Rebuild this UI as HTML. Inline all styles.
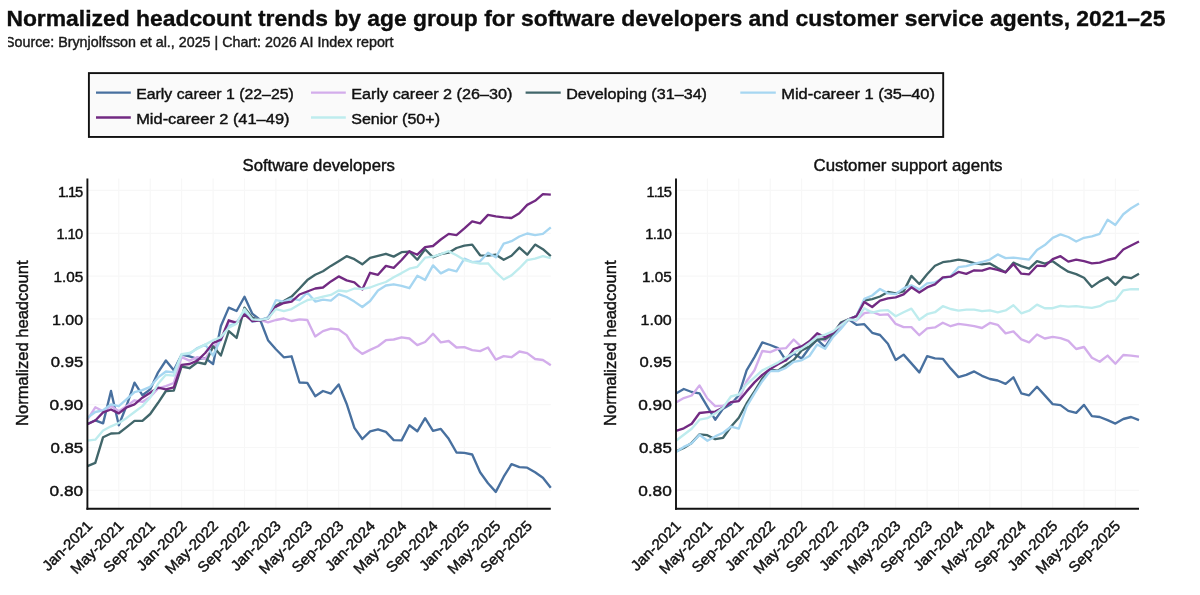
<!DOCTYPE html>
<html><head><meta charset="utf-8"><title>Normalized headcount trends</title>
<style>
html,body{margin:0;padding:0;background:#fff;}
body{width:1200px;height:595px;overflow:hidden;font-family:"Liberation Sans", sans-serif;}
svg{display:block;position:absolute;left:0;top:0;}
text{font-family:"Liberation Sans", sans-serif;fill:#111;stroke:#111;stroke-width:0.42px;filter:grayscale(1);}
.ttl{font-size:22.8px;font-weight:bold;fill:#0d0d0d;stroke:#0d0d0d;stroke-width:0.35px;}
.sub{font-size:14.1px;fill:#1a1a1a;stroke:#1a1a1a;stroke-width:0.42px;}
.lg{font-size:15.4px;}
.tk{font-size:14.7px;}
.xk{font-size:14.7px;}
.ct{font-size:15.9px;}
.yl{font-size:15.9px;}
</style></head>
<body>
<svg width="1200" height="595" viewBox="0 0 1200 595">
<rect width="1200" height="595" fill="#ffffff"/>
<text class="ttl" x="6.4" y="26.4" textLength="1159" lengthAdjust="spacingAndGlyphs">Normalized headcount trends by age group for software developers and customer service agents, 2021–25</text>
<text class="sub" x="5" y="46.8" textLength="388.6" lengthAdjust="spacingAndGlyphs">Source: Brynjolfsson et al., 2025 | Chart: 2026 AI Index report</text>
<rect x="0" y="32" width="8" height="20" fill="#ffffff"/>
<rect x="88.9" y="73.1" width="854.3" height="63.85" fill="#fafafa" stroke="#111" stroke-width="1.9"/>
<line x1="96" y1="92.6" x2="130.8" y2="92.6" stroke="#48709f" stroke-width="2.3"/>
<text class="lg" x="136.2" y="99.2" textLength="157.6" lengthAdjust="spacingAndGlyphs">Early career 1 (22–25)</text>
<line x1="311" y1="92.6" x2="345.8" y2="92.6" stroke="#d3adeb" stroke-width="2.3"/>
<text class="lg" x="351.2" y="99.2" textLength="161.3" lengthAdjust="spacingAndGlyphs">Early career 2 (26–30)</text>
<line x1="525.6" y1="92.6" x2="560.7" y2="92.6" stroke="#41666a" stroke-width="2.3"/>
<text class="lg" x="566.2" y="99.2" textLength="140.8" lengthAdjust="spacingAndGlyphs">Developing (31–34)</text>
<line x1="740.3" y1="92.6" x2="775.8" y2="92.6" stroke="#a6d6f1" stroke-width="2.3"/>
<text class="lg" x="781.2" y="99.2" textLength="153.8" lengthAdjust="spacingAndGlyphs">Mid-career 1 (35–40)</text>
<line x1="96" y1="117.5" x2="130.8" y2="117.5" stroke="#722a82" stroke-width="2.3"/>
<text class="lg" x="136.2" y="124.1" textLength="153.3" lengthAdjust="spacingAndGlyphs">Mid-career 2 (41–49)</text>
<line x1="311" y1="117.5" x2="345.8" y2="117.5" stroke="#beecee" stroke-width="2.3"/>
<text class="lg" x="351.2" y="124.1" textLength="88.8" lengthAdjust="spacingAndGlyphs">Senior (50+)</text>
<line x1="118.8" y1="178.5" x2="118.8" y2="508.8" stroke="#f7f7f7" stroke-width="1.2"/>
<line x1="150.2" y1="178.5" x2="150.2" y2="508.8" stroke="#f7f7f7" stroke-width="1.2"/>
<line x1="181.6" y1="178.5" x2="181.6" y2="508.8" stroke="#f7f7f7" stroke-width="1.2"/>
<line x1="213.1" y1="178.5" x2="213.1" y2="508.8" stroke="#f7f7f7" stroke-width="1.2"/>
<line x1="244.5" y1="178.5" x2="244.5" y2="508.8" stroke="#f7f7f7" stroke-width="1.2"/>
<line x1="275.9" y1="178.5" x2="275.9" y2="508.8" stroke="#f7f7f7" stroke-width="1.2"/>
<line x1="307.3" y1="178.5" x2="307.3" y2="508.8" stroke="#f7f7f7" stroke-width="1.2"/>
<line x1="338.7" y1="178.5" x2="338.7" y2="508.8" stroke="#f7f7f7" stroke-width="1.2"/>
<line x1="370.1" y1="178.5" x2="370.1" y2="508.8" stroke="#f7f7f7" stroke-width="1.2"/>
<line x1="401.6" y1="178.5" x2="401.6" y2="508.8" stroke="#f7f7f7" stroke-width="1.2"/>
<line x1="433.0" y1="178.5" x2="433.0" y2="508.8" stroke="#f7f7f7" stroke-width="1.2"/>
<line x1="464.4" y1="178.5" x2="464.4" y2="508.8" stroke="#f7f7f7" stroke-width="1.2"/>
<line x1="495.8" y1="178.5" x2="495.8" y2="508.8" stroke="#f7f7f7" stroke-width="1.2"/>
<line x1="527.2" y1="178.5" x2="527.2" y2="508.8" stroke="#f7f7f7" stroke-width="1.2"/>
<line x1="87.4" y1="490.3" x2="550.8" y2="490.3" stroke="#f7f7f7" stroke-width="1.2"/>
<line x1="87.4" y1="447.5" x2="550.8" y2="447.5" stroke="#f7f7f7" stroke-width="1.2"/>
<line x1="87.4" y1="404.6" x2="550.8" y2="404.6" stroke="#f7f7f7" stroke-width="1.2"/>
<line x1="87.4" y1="361.8" x2="550.8" y2="361.8" stroke="#f7f7f7" stroke-width="1.2"/>
<line x1="87.4" y1="318.9" x2="550.8" y2="318.9" stroke="#f7f7f7" stroke-width="1.2"/>
<line x1="87.4" y1="276.1" x2="550.8" y2="276.1" stroke="#f7f7f7" stroke-width="1.2"/>
<line x1="87.4" y1="233.3" x2="550.8" y2="233.3" stroke="#f7f7f7" stroke-width="1.2"/>
<line x1="87.4" y1="190.4" x2="550.8" y2="190.4" stroke="#f7f7f7" stroke-width="1.2"/>
<polyline points="87.4,424.0 95.3,420.3 103.1,423.4 111.0,391.0 118.8,425.2 126.7,405.3 134.5,382.6 142.4,395.2 150.2,389.4 158.1,372.3 165.9,360.5 173.8,370.3 181.6,354.7 189.5,356.4 197.4,358.9 205.2,358.1 213.1,364.0 220.9,326.0 228.8,307.6 236.6,311.0 244.5,296.7 252.3,313.7 260.2,320.0 268.0,340.2 275.9,349.2 283.8,357.3 291.6,356.3 299.5,382.5 307.3,382.9 315.2,396.2 323.0,391.0 330.9,393.6 338.7,384.5 346.6,403.7 354.4,427.9 362.3,439.0 370.1,431.3 378.0,429.3 385.9,431.9 393.7,440.1 401.6,440.4 409.4,425.3 417.3,431.3 425.1,418.2 433.0,430.9 440.8,428.9 448.7,438.8 456.5,452.5 464.4,452.9 472.2,454.5 480.1,472.3 488.0,483.2 495.8,491.9 503.7,476.7 511.5,464.2 519.4,467.2 527.2,467.7 535.1,472.3 542.9,477.7 550.8,487.8" fill="none" stroke="#48709f" stroke-width="2.35" stroke-linejoin="round" stroke-linecap="butt"/>
<polyline points="87.4,419.6 95.3,407.3 103.1,411.2 111.0,406.1 118.8,411.2 126.7,406.1 134.5,400.3 142.4,401.9 150.2,396.9 158.1,388.5 165.9,386.2 173.8,383.0 181.6,357.2 189.5,360.6 197.4,357.2 205.2,358.9 213.1,347.1 220.9,340.4 228.8,321.9 236.6,321.9 244.5,312.7 252.3,317.7 260.2,319.9 268.0,322.4 275.9,320 283.8,318.5 291.6,321 299.5,319.4 307.3,320 315.2,336.5 323.0,331.1 330.9,328.7 338.7,329.5 346.6,335.1 354.4,347.8 362.3,353.9 370.1,349.9 378.0,346.2 385.9,340.2 393.7,339.5 401.6,337.3 409.4,338.5 417.3,345.1 425.1,342 433.0,333.8 440.8,342.4 448.7,341 456.5,347.5 464.4,347.1 472.2,350.1 480.1,351.1 488.0,347.5 495.8,359.6 503.7,356.2 511.5,357.2 519.4,351.5 527.2,353.1 535.1,359 542.9,360 550.8,365.2" fill="none" stroke="#d3adeb" stroke-width="2.35" stroke-linejoin="round" stroke-linecap="butt"/>
<polyline points="87.4,466.1 95.3,462.9 103.1,437.2 111.0,433.5 118.8,433.2 126.7,427.1 134.5,420.9 142.4,420.9 150.2,414.0 158.1,402.8 165.9,391.0 173.8,390.6 181.6,366.5 189.5,368.2 197.4,362.3 205.2,364.0 213.1,346.3 220.9,355.5 228.8,331.2 236.6,337.9 244.5,307.6 252.3,317.7 260.2,320.3 268.0,317.7 275.9,305.7 283.8,301.0 291.6,296.6 299.5,288.5 307.3,280.1 315.2,274.8 323.0,271.3 330.9,265.9 338.7,261.2 346.6,256.2 354.4,259.2 362.3,264.3 370.1,257.8 378.0,255.8 385.9,253.8 393.7,256.6 401.6,252.2 409.4,251.6 417.3,259.7 425.1,249.2 433.0,257.3 440.8,254.1 448.7,252.7 456.5,248.0 464.4,245.6 472.2,244.6 480.1,255.3 488.0,255.7 495.8,254.7 503.7,259.7 511.5,255.7 519.4,247.6 527.2,254.7 535.1,244.6 542.9,249.2 550.8,256.1" fill="none" stroke="#41666a" stroke-width="2.35" stroke-linejoin="round" stroke-linecap="butt"/>
<polyline points="87.4,417.9 95.3,412.0 103.1,410.3 111.0,404.4 118.8,406.1 126.7,399.2 134.5,392.2 142.4,390.2 150.2,386.8 158.1,377.4 165.9,371.5 173.8,372.4 181.6,354.7 189.5,353.9 197.4,348 205.2,344.6 213.1,355.5 220.9,338.7 228.8,326.1 236.6,322.8 244.5,310.6 252.3,321.9 260.2,319.9 268.0,317.7 275.9,300.2 283.8,301.6 291.6,298.6 299.5,300.2 307.3,292.5 315.2,301.6 323.0,299.6 330.9,300.6 338.7,294.1 346.6,297.0 354.4,301.6 362.3,307.0 370.1,301.0 378.0,290.5 385.9,285.5 393.7,284.3 401.6,285.8 409.4,288.2 417.3,275.8 425.1,279.9 433.0,265.4 440.8,273.4 448.7,269.4 456.5,271.4 464.4,258.7 472.2,262.1 480.1,261.3 488.0,252.7 495.8,257.3 503.7,243.6 511.5,241.2 519.4,236.5 527.2,233.5 535.1,235.1 542.9,233.9 550.8,227.4" fill="none" stroke="#a6d6f1" stroke-width="2.35" stroke-linejoin="round" stroke-linecap="butt"/>
<polyline points="87.4,424.3 95.3,420.5 103.1,412.4 111.0,409.5 118.8,413.4 126.7,407.3 134.5,404.4 142.4,397.7 150.2,392.7 158.1,387.6 165.9,389.3 173.8,387.3 181.6,364.8 189.5,364.0 197.4,360.6 205.2,353.0 213.1,342.9 220.9,339.6 228.8,320.3 236.6,322.8 244.5,314.4 252.3,321.2 260.2,320.3 268.0,318.6 275.9,306.6 283.8,303.0 291.6,301.6 299.5,294.5 307.3,291.5 315.2,288.5 323.0,287.5 330.9,281.4 338.7,276.4 346.6,280.4 354.4,282.4 362.3,289.5 370.1,272.8 378.0,274.8 385.9,265.9 393.7,267.9 401.6,260.0 409.4,251.2 417.3,254.7 425.1,247.2 433.0,246.0 440.8,239.5 448.7,233.9 456.5,235.1 464.4,228.4 472.2,221.4 480.1,223.4 488.0,214.9 495.8,216.3 503.7,217.4 511.5,218.0 519.4,213.3 527.2,204.9 535.1,200.8 542.9,194.2 550.8,194.6" fill="none" stroke="#722a82" stroke-width="2.35" stroke-linejoin="round" stroke-linecap="butt"/>
<polyline points="87.4,440.6 95.3,439.7 103.1,430.5 111.0,426.3 118.8,423.0 126.7,417.9 134.5,412.0 142.4,406.1 150.2,397.5 158.1,383.8 165.9,374.8 173.8,375.7 181.6,354.2 189.5,353 197.4,348.8 205.2,344.6 213.1,340.4 220.9,337.1 228.8,327.8 236.6,323.6 244.5,309.0 252.3,319.4 260.2,319.9 268.0,318.6 275.9,309.1 283.8,311.1 291.6,309.1 299.5,304.2 307.3,300.2 315.2,298.6 323.0,296.6 330.9,294.9 338.7,290.5 346.6,291.5 354.4,288.5 362.3,288.9 370.1,287.5 378.0,284.5 385.9,282.0 393.7,277.2 401.6,273.1 409.4,268.7 417.3,266.8 425.1,257.7 433.0,256.7 440.8,254.1 448.7,251.2 456.5,255.3 464.4,260.1 472.2,262.1 480.1,263.7 488.0,263.3 495.8,272.2 503.7,279.5 511.5,275.4 519.4,268.2 527.2,260.1 535.1,258.7 542.9,256.1 550.8,258.1" fill="none" stroke="#beecee" stroke-width="2.35" stroke-linejoin="round" stroke-linecap="butt"/>
<line x1="87.4" y1="178.5" x2="87.4" y2="509.75" stroke="#111" stroke-width="1.9"/>
<line x1="86.45" y1="508.8" x2="550.8" y2="508.8" stroke="#111" stroke-width="1.9"/>
<text class="tk" x="58.0" y="196.5" textLength="25.2" lengthAdjust="spacing">1.15</text>
<text class="tk" x="56.6" y="239.2" textLength="26.6" lengthAdjust="spacing">1.10</text>
<text class="tk" x="53.4" y="281.9" textLength="29.8" lengthAdjust="spacingAndGlyphs">1.05</text>
<text class="tk" x="52.0" y="324.7" textLength="31.2" lengthAdjust="spacingAndGlyphs">1.00</text>
<text class="tk" x="50.8" y="367.4" textLength="32.4" lengthAdjust="spacingAndGlyphs">0.95</text>
<text class="tk" x="49.6" y="410.1" textLength="33.6" lengthAdjust="spacingAndGlyphs">0.90</text>
<text class="tk" x="50.4" y="452.8" textLength="32.8" lengthAdjust="spacingAndGlyphs">0.85</text>
<text class="tk" x="49.6" y="495.6" textLength="33.6" lengthAdjust="spacingAndGlyphs">0.80</text>
<text class="xk" transform="translate(93.2,526.7) rotate(-45)" x="-63.6" textLength="63.6" lengthAdjust="spacingAndGlyphs">Jan-2021</text>
<text class="xk" transform="translate(124.6,526.7) rotate(-45)" x="-67.9" textLength="67.9" lengthAdjust="spacingAndGlyphs">May-2021</text>
<text class="xk" transform="translate(156.0,526.7) rotate(-45)" x="-66.1" textLength="66.1" lengthAdjust="spacingAndGlyphs">Sep-2021</text>
<text class="xk" transform="translate(187.4,526.7) rotate(-45)" x="-63.6" textLength="63.6" lengthAdjust="spacingAndGlyphs">Jan-2022</text>
<text class="xk" transform="translate(218.9,526.7) rotate(-45)" x="-67.9" textLength="67.9" lengthAdjust="spacingAndGlyphs">May-2022</text>
<text class="xk" transform="translate(250.3,526.7) rotate(-45)" x="-66.1" textLength="66.1" lengthAdjust="spacingAndGlyphs">Sep-2022</text>
<text class="xk" transform="translate(281.7,526.7) rotate(-45)" x="-63.6" textLength="63.6" lengthAdjust="spacingAndGlyphs">Jan-2023</text>
<text class="xk" transform="translate(313.1,526.7) rotate(-45)" x="-67.9" textLength="67.9" lengthAdjust="spacingAndGlyphs">May-2023</text>
<text class="xk" transform="translate(344.5,526.7) rotate(-45)" x="-66.1" textLength="66.1" lengthAdjust="spacingAndGlyphs">Sep-2023</text>
<text class="xk" transform="translate(375.9,526.7) rotate(-45)" x="-63.6" textLength="63.6" lengthAdjust="spacingAndGlyphs">Jan-2024</text>
<text class="xk" transform="translate(407.4,526.7) rotate(-45)" x="-67.9" textLength="67.9" lengthAdjust="spacingAndGlyphs">May-2024</text>
<text class="xk" transform="translate(438.8,526.7) rotate(-45)" x="-66.1" textLength="66.1" lengthAdjust="spacingAndGlyphs">Sep-2024</text>
<text class="xk" transform="translate(470.2,526.7) rotate(-45)" x="-63.6" textLength="63.6" lengthAdjust="spacingAndGlyphs">Jan-2025</text>
<text class="xk" transform="translate(501.6,526.7) rotate(-45)" x="-67.9" textLength="67.9" lengthAdjust="spacingAndGlyphs">May-2025</text>
<text class="xk" transform="translate(533.0,526.7) rotate(-45)" x="-66.1" textLength="66.1" lengthAdjust="spacingAndGlyphs">Sep-2025</text>
<text class="ct" x="242.5" y="171" textLength="152.4" lengthAdjust="spacingAndGlyphs">Software developers</text>
<text class="yl" transform="translate(27.5,426) rotate(-90)" textLength="165.5" lengthAdjust="spacingAndGlyphs">Normalized headcount</text>
<line x1="707.4" y1="178.5" x2="707.4" y2="508.8" stroke="#f7f7f7" stroke-width="1.2"/>
<line x1="738.8" y1="178.5" x2="738.8" y2="508.8" stroke="#f7f7f7" stroke-width="1.2"/>
<line x1="770.2" y1="178.5" x2="770.2" y2="508.8" stroke="#f7f7f7" stroke-width="1.2"/>
<line x1="801.6" y1="178.5" x2="801.6" y2="508.8" stroke="#f7f7f7" stroke-width="1.2"/>
<line x1="832.9" y1="178.5" x2="832.9" y2="508.8" stroke="#f7f7f7" stroke-width="1.2"/>
<line x1="864.3" y1="178.5" x2="864.3" y2="508.8" stroke="#f7f7f7" stroke-width="1.2"/>
<line x1="895.7" y1="178.5" x2="895.7" y2="508.8" stroke="#f7f7f7" stroke-width="1.2"/>
<line x1="927.1" y1="178.5" x2="927.1" y2="508.8" stroke="#f7f7f7" stroke-width="1.2"/>
<line x1="958.5" y1="178.5" x2="958.5" y2="508.8" stroke="#f7f7f7" stroke-width="1.2"/>
<line x1="989.9" y1="178.5" x2="989.9" y2="508.8" stroke="#f7f7f7" stroke-width="1.2"/>
<line x1="1021.3" y1="178.5" x2="1021.3" y2="508.8" stroke="#f7f7f7" stroke-width="1.2"/>
<line x1="1052.7" y1="178.5" x2="1052.7" y2="508.8" stroke="#f7f7f7" stroke-width="1.2"/>
<line x1="1084.0" y1="178.5" x2="1084.0" y2="508.8" stroke="#f7f7f7" stroke-width="1.2"/>
<line x1="1115.4" y1="178.5" x2="1115.4" y2="508.8" stroke="#f7f7f7" stroke-width="1.2"/>
<line x1="676.0" y1="490.3" x2="1139.0" y2="490.3" stroke="#f7f7f7" stroke-width="1.2"/>
<line x1="676.0" y1="447.5" x2="1139.0" y2="447.5" stroke="#f7f7f7" stroke-width="1.2"/>
<line x1="676.0" y1="404.6" x2="1139.0" y2="404.6" stroke="#f7f7f7" stroke-width="1.2"/>
<line x1="676.0" y1="361.8" x2="1139.0" y2="361.8" stroke="#f7f7f7" stroke-width="1.2"/>
<line x1="676.0" y1="318.9" x2="1139.0" y2="318.9" stroke="#f7f7f7" stroke-width="1.2"/>
<line x1="676.0" y1="276.1" x2="1139.0" y2="276.1" stroke="#f7f7f7" stroke-width="1.2"/>
<line x1="676.0" y1="233.3" x2="1139.0" y2="233.3" stroke="#f7f7f7" stroke-width="1.2"/>
<line x1="676.0" y1="190.4" x2="1139.0" y2="190.4" stroke="#f7f7f7" stroke-width="1.2"/>
<polyline points="676.0,393.4 683.8,389 691.7,392 699.5,393.4 707.4,406.6 715.2,419.7 723.1,408.6 730.9,404.3 738.8,395.2 746.6,370.3 754.5,357.1 762.3,342.4 770.2,345 778.0,348.2 785.9,360.4 793.7,353.5 801.6,358.5 809.4,347.8 817.2,339.6 825.1,347.2 832.9,335.2 840.8,326.4 848.6,319.4 856.5,324.8 864.3,324.2 872.2,332.8 880.0,335.0 887.9,343.8 895.7,360.0 903.6,354.6 911.4,363.4 919.3,372.4 927.1,356.2 935.0,358.4 942.8,358.8 950.6,368.4 958.5,377.1 966.3,374.9 974.2,371.4 982.0,375.8 989.9,379.0 997.7,380.5 1005.6,383.8 1013.4,377.3 1021.3,393.3 1029.1,395.3 1037.0,386.8 1044.8,395.4 1052.7,404.1 1060.5,405.1 1068.3,410.9 1076.2,412.9 1084.0,404.9 1091.9,416.2 1099.7,417 1107.6,420.2 1115.4,423.6 1123.3,419 1131.1,417 1139.0,420.2" fill="none" stroke="#48709f" stroke-width="2.35" stroke-linejoin="round" stroke-linecap="butt"/>
<polyline points="676.0,402.5 683.8,398.1 691.7,395.5 699.5,385.4 707.4,398.5 715.2,406.2 723.1,405.6 730.9,402.5 738.8,400.5 746.6,381.3 754.5,370.3 762.3,351 770.2,352.2 778.0,348.8 785.9,348.2 793.7,339.5 801.6,347.2 809.4,343.5 817.2,334.5 825.1,341 832.9,332.8 840.8,326.2 848.6,319.4 856.5,320.5 864.3,313.2 872.2,312 880.0,314.9 887.9,314.3 895.7,323.9 903.6,327.1 911.4,327.1 919.3,335.2 927.1,328.4 935.0,327.4 942.8,322.7 950.6,326.2 958.5,323.9 966.3,324.9 974.2,326.2 982.0,328 989.9,322.9 997.7,324.8 1005.6,333.4 1013.4,331.4 1021.3,339.4 1029.1,342.4 1037.0,334.5 1044.8,338.5 1052.7,336.9 1060.5,338.1 1068.3,340.9 1076.2,349 1084.0,347 1091.9,357.7 1099.7,361.7 1107.6,355.6 1115.4,363.7 1123.3,355 1131.1,355.6 1139.0,356.6" fill="none" stroke="#d3adeb" stroke-width="2.35" stroke-linejoin="round" stroke-linecap="butt"/>
<polyline points="676.0,451.3 683.8,447.9 691.7,442.9 699.5,434.4 707.4,435.2 715.2,439.2 723.1,437.8 730.9,426.7 738.8,417.7 746.6,403.5 754.5,391.4 762.3,378.6 770.2,369.5 778.0,370.8 785.9,365.0 793.7,360.1 801.6,350.4 809.4,346.6 817.2,339.6 825.1,339 832.9,334 840.8,322.6 848.6,319.4 856.5,316 864.3,300.5 872.2,299.1 880.0,296.5 887.9,292 895.7,293.4 903.6,291.4 911.4,275.9 919.3,284 927.1,274.3 935.0,265.8 942.8,262.2 950.6,261.2 958.5,259.6 966.3,260.8 974.2,263.2 982.0,264.4 989.9,263.4 997.7,268.1 1005.6,272.3 1013.4,262.7 1021.3,266.1 1029.1,268.7 1037.0,261.2 1044.8,263.7 1052.7,261.2 1060.5,266.7 1068.3,271.7 1076.2,274.1 1084.0,277.8 1091.9,286.9 1099.7,281.4 1107.6,277.4 1115.4,284.8 1123.3,276.8 1131.1,278.2 1139.0,273.7" fill="none" stroke="#41666a" stroke-width="2.35" stroke-linejoin="round" stroke-linecap="butt"/>
<polyline points="676.0,451.9 683.8,446.9 691.7,443.3 699.5,434.8 707.4,440.8 715.2,436.4 723.1,432.8 730.9,426.7 738.8,428.7 746.6,406.6 754.5,393.4 762.3,381.2 770.2,371 778.0,371.2 785.9,367.9 793.7,361.8 801.6,360.3 809.4,356 817.2,344.5 825.1,348.8 832.9,337.1 840.8,328.9 848.6,319.4 856.5,316 864.3,298.9 872.2,295.5 880.0,289 887.9,293.4 895.7,294.1 903.6,288.4 911.4,285.4 919.3,289.4 927.1,283.4 935.0,282.4 942.8,278.3 950.6,276.3 958.5,267.2 966.3,266.2 974.2,263.8 982.0,262 989.9,259.6 997.7,254.4 1005.6,258.1 1013.4,257.6 1021.3,258.6 1029.1,259.6 1037.0,249.9 1044.8,245.1 1052.7,237.8 1060.5,234.4 1068.3,237 1076.2,241.5 1084.0,237.8 1091.9,236.4 1099.7,233.8 1107.6,219.7 1115.4,224.9 1123.3,214.2 1131.1,208.2 1139.0,203.6" fill="none" stroke="#a6d6f1" stroke-width="2.35" stroke-linejoin="round" stroke-linecap="butt"/>
<polyline points="676.0,430.8 683.8,428.3 691.7,423.7 699.5,413 707.4,412.2 715.2,411.6 723.1,407.6 730.9,402.1 738.8,401.1 746.6,391.4 754.5,382.4 762.3,374.9 770.2,369 778.0,364.2 785.9,360.2 793.7,349 801.6,346.4 809.4,341.3 817.2,333.2 825.1,337.3 832.9,332.9 840.8,324.2 848.6,319.4 856.5,316.2 864.3,301.9 872.2,307 880.0,300.6 887.9,298.4 895.7,297.4 903.6,294.4 911.4,287.3 919.3,292.6 927.1,287.4 935.0,284.4 942.8,277.3 950.6,276.7 958.5,271.9 966.3,273.9 974.2,270.3 982.0,270.7 989.9,268.1 997.7,269.8 1005.6,272.3 1013.4,264.1 1021.3,273.7 1029.1,274.3 1037.0,265.7 1044.8,266.1 1052.7,259.2 1060.5,256.2 1068.3,261.6 1076.2,259.6 1084.0,261.2 1091.9,263.3 1099.7,262.7 1107.6,260 1115.4,258 1123.3,249.5 1131.1,245.5 1139.0,241.5" fill="none" stroke="#722a82" stroke-width="2.35" stroke-linejoin="round" stroke-linecap="butt"/>
<polyline points="676.0,440.8 683.8,434.8 691.7,428.7 699.5,419.7 707.4,418.2 715.2,413.6 723.1,407.6 730.9,396.5 738.8,394.5 746.6,384.4 754.5,377.3 762.3,370.4 770.2,366.5 778.0,362.6 785.9,357.5 793.7,352.8 801.6,348.6 809.4,343.2 817.2,337.1 825.1,334.6 832.9,331.4 840.8,325.1 848.6,319.4 856.5,320.2 864.3,308.2 872.2,312.6 880.0,310.6 887.9,310.2 895.7,316.2 903.6,312.2 911.4,308.6 919.3,319.7 927.1,314.2 935.0,312.2 942.8,306.2 950.6,309 958.5,310.6 966.3,309.6 974.2,309.6 982.0,311.2 989.9,310.3 997.7,312.3 1005.6,310.4 1013.4,305.2 1021.3,313.3 1029.1,310.7 1037.0,304.6 1044.8,308.2 1052.7,308.2 1060.5,305.8 1068.3,306.6 1076.2,306.2 1084.0,307.2 1091.9,307.8 1099.7,306.2 1107.6,301.8 1115.4,300.4 1123.3,290.3 1131.1,289.2 1139.0,289.2" fill="none" stroke="#beecee" stroke-width="2.35" stroke-linejoin="round" stroke-linecap="butt"/>
<line x1="676.0" y1="178.5" x2="676.0" y2="509.75" stroke="#111" stroke-width="1.9"/>
<line x1="675.05" y1="508.8" x2="1139.0" y2="508.8" stroke="#111" stroke-width="1.9"/>
<text class="tk" x="646.6" y="196.5" textLength="25.2" lengthAdjust="spacing">1.15</text>
<text class="tk" x="645.2" y="239.2" textLength="26.6" lengthAdjust="spacing">1.10</text>
<text class="tk" x="642.0" y="281.9" textLength="29.8" lengthAdjust="spacingAndGlyphs">1.05</text>
<text class="tk" x="640.6" y="324.7" textLength="31.2" lengthAdjust="spacingAndGlyphs">1.00</text>
<text class="tk" x="639.4" y="367.4" textLength="32.4" lengthAdjust="spacingAndGlyphs">0.95</text>
<text class="tk" x="638.2" y="410.1" textLength="33.6" lengthAdjust="spacingAndGlyphs">0.90</text>
<text class="tk" x="639.0" y="452.8" textLength="32.8" lengthAdjust="spacingAndGlyphs">0.85</text>
<text class="tk" x="638.2" y="495.6" textLength="33.6" lengthAdjust="spacingAndGlyphs">0.80</text>
<text class="xk" transform="translate(681.8,526.7) rotate(-45)" x="-63.6" textLength="63.6" lengthAdjust="spacingAndGlyphs">Jan-2021</text>
<text class="xk" transform="translate(713.2,526.7) rotate(-45)" x="-67.9" textLength="67.9" lengthAdjust="spacingAndGlyphs">May-2021</text>
<text class="xk" transform="translate(744.6,526.7) rotate(-45)" x="-66.1" textLength="66.1" lengthAdjust="spacingAndGlyphs">Sep-2021</text>
<text class="xk" transform="translate(776.0,526.7) rotate(-45)" x="-63.6" textLength="63.6" lengthAdjust="spacingAndGlyphs">Jan-2022</text>
<text class="xk" transform="translate(807.4,526.7) rotate(-45)" x="-67.9" textLength="67.9" lengthAdjust="spacingAndGlyphs">May-2022</text>
<text class="xk" transform="translate(838.7,526.7) rotate(-45)" x="-66.1" textLength="66.1" lengthAdjust="spacingAndGlyphs">Sep-2022</text>
<text class="xk" transform="translate(870.1,526.7) rotate(-45)" x="-63.6" textLength="63.6" lengthAdjust="spacingAndGlyphs">Jan-2023</text>
<text class="xk" transform="translate(901.5,526.7) rotate(-45)" x="-67.9" textLength="67.9" lengthAdjust="spacingAndGlyphs">May-2023</text>
<text class="xk" transform="translate(932.9,526.7) rotate(-45)" x="-66.1" textLength="66.1" lengthAdjust="spacingAndGlyphs">Sep-2023</text>
<text class="xk" transform="translate(964.3,526.7) rotate(-45)" x="-63.6" textLength="63.6" lengthAdjust="spacingAndGlyphs">Jan-2024</text>
<text class="xk" transform="translate(995.7,526.7) rotate(-45)" x="-67.9" textLength="67.9" lengthAdjust="spacingAndGlyphs">May-2024</text>
<text class="xk" transform="translate(1027.1,526.7) rotate(-45)" x="-66.1" textLength="66.1" lengthAdjust="spacingAndGlyphs">Sep-2024</text>
<text class="xk" transform="translate(1058.5,526.7) rotate(-45)" x="-63.6" textLength="63.6" lengthAdjust="spacingAndGlyphs">Jan-2025</text>
<text class="xk" transform="translate(1089.8,526.7) rotate(-45)" x="-67.9" textLength="67.9" lengthAdjust="spacingAndGlyphs">May-2025</text>
<text class="xk" transform="translate(1121.2,526.7) rotate(-45)" x="-66.1" textLength="66.1" lengthAdjust="spacingAndGlyphs">Sep-2025</text>
<text class="ct" x="813.5" y="171" textLength="189" lengthAdjust="spacingAndGlyphs">Customer support agents</text>
<text class="yl" transform="translate(616.3,426) rotate(-90)" textLength="165.5" lengthAdjust="spacingAndGlyphs">Normalized headcount</text>
</svg>
</body></html>
